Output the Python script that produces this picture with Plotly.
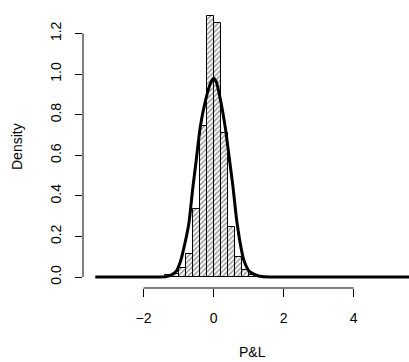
import plotly.graph_objects as go

# Histogram bins (centers, width 0.2) and densities
bin_centers = [-1.3, -1.1, -0.9, -0.7, -0.5, -0.3, -0.1, 0.1, 0.3, 0.5, 0.7, 0.9, 1.1]
bin_heights = [0.01, 0.015, 0.045, 0.115, 0.335, 0.745, 1.286, 1.253, 0.71, 0.245, 0.097, 0.036, 0.01]
bin_width = 0.2

# Density curve points
curve_x = [-3.38, -1.6, -1.35, -1.2, -1.06, -0.94, -0.88, -0.71, -0.6, -0.5, -0.38, -0.23, -0.1,
           0.0, 0.08, 0.2, 0.34, 0.46, 0.55, 0.66, 0.8, 0.87, 1.01, 1.2, 1.38, 1.6, 5.6]
curve_y = [0.0, 0.0, 0.002, 0.011, 0.03, 0.08, 0.12, 0.26, 0.43, 0.57, 0.74, 0.87, 0.95,
           0.98, 0.96, 0.87, 0.73, 0.57, 0.45, 0.28, 0.13, 0.08, 0.03, 0.011, 0.002, 0.0, 0.0]

x_ticks = [-2, 0, 2, 4]
y_ticks = [0.0, 0.2, 0.4, 0.6, 0.8, 1.0, 1.2]
y_tick_labels = ["0.0", "0.2", "0.4", "0.6", "0.8", "1.0", "1.2"]

FONT = "Arial, Liberation Sans, sans-serif"

fig = go.Figure()
fig.add_trace(go.Bar(
    x=bin_centers, y=bin_heights, width=[bin_width] * len(bin_centers),
    marker=dict(color="white", line=dict(color="black", width=1),
                pattern=dict(shape="/", fgcolor="black", bgcolor="white", size=3.5, solidity=0.35)),
    showlegend=False,
))
fig.add_trace(go.Scatter(
    x=curve_x, y=curve_y, mode="lines",
    line=dict(color="black", width=3, shape="spline", smoothing=0.6),
    showlegend=False,
))

fig.update_layout(
    width=409, height=362,
    margin=dict(l=83, r=0, t=0, b=74),
    plot_bgcolor="white", paper_bgcolor="white",
    bargap=0,
    font=dict(family=FONT, size=14, color="black"),
    xaxis=dict(range=[-3.731, 5.583], tickvals=x_ticks, ticks="outside", ticklen=8,
               tickcolor="black", showline=False, showgrid=False, zeroline=False,
               ticklabelstandoff=9, tickfont=dict(size=14)),
    yaxis=dict(range=[-0.0542, 1.365], tickvals=y_ticks, ticktext=y_tick_labels,
               ticks="outside", ticklen=7, tickcolor="black", tickangle=-90,
               showline=False, showgrid=False, zeroline=False,
               ticklabelstandoff=8, tickfont=dict(size=14)),
    shapes=[
        dict(type="line", xref="x", yref="paper", x0=x_ticks[0], x1=x_ticks[-1], y0=0, y1=0,
             line=dict(color="black", width=1)),
        dict(type="line", xref="paper", yref="y", x0=0, x1=0, y0=y_ticks[0], y1=y_ticks[-1],
             line=dict(color="black", width=1)),
    ],
    annotations=[
        dict(text="P&L", xref="paper", yref="paper", x=(252 - 83) / 326, y=-64 / 288,
             showarrow=False, xanchor="center", yanchor="middle", font=dict(size=14)),
        dict(text="Density", xref="paper", yref="paper", x=-66 / 326, y=(288 - 147) / 288,
             showarrow=False, xanchor="center", yanchor="middle", textangle=-90,
             font=dict(size=14)),
    ],
)

fig.write_html("out.html")
